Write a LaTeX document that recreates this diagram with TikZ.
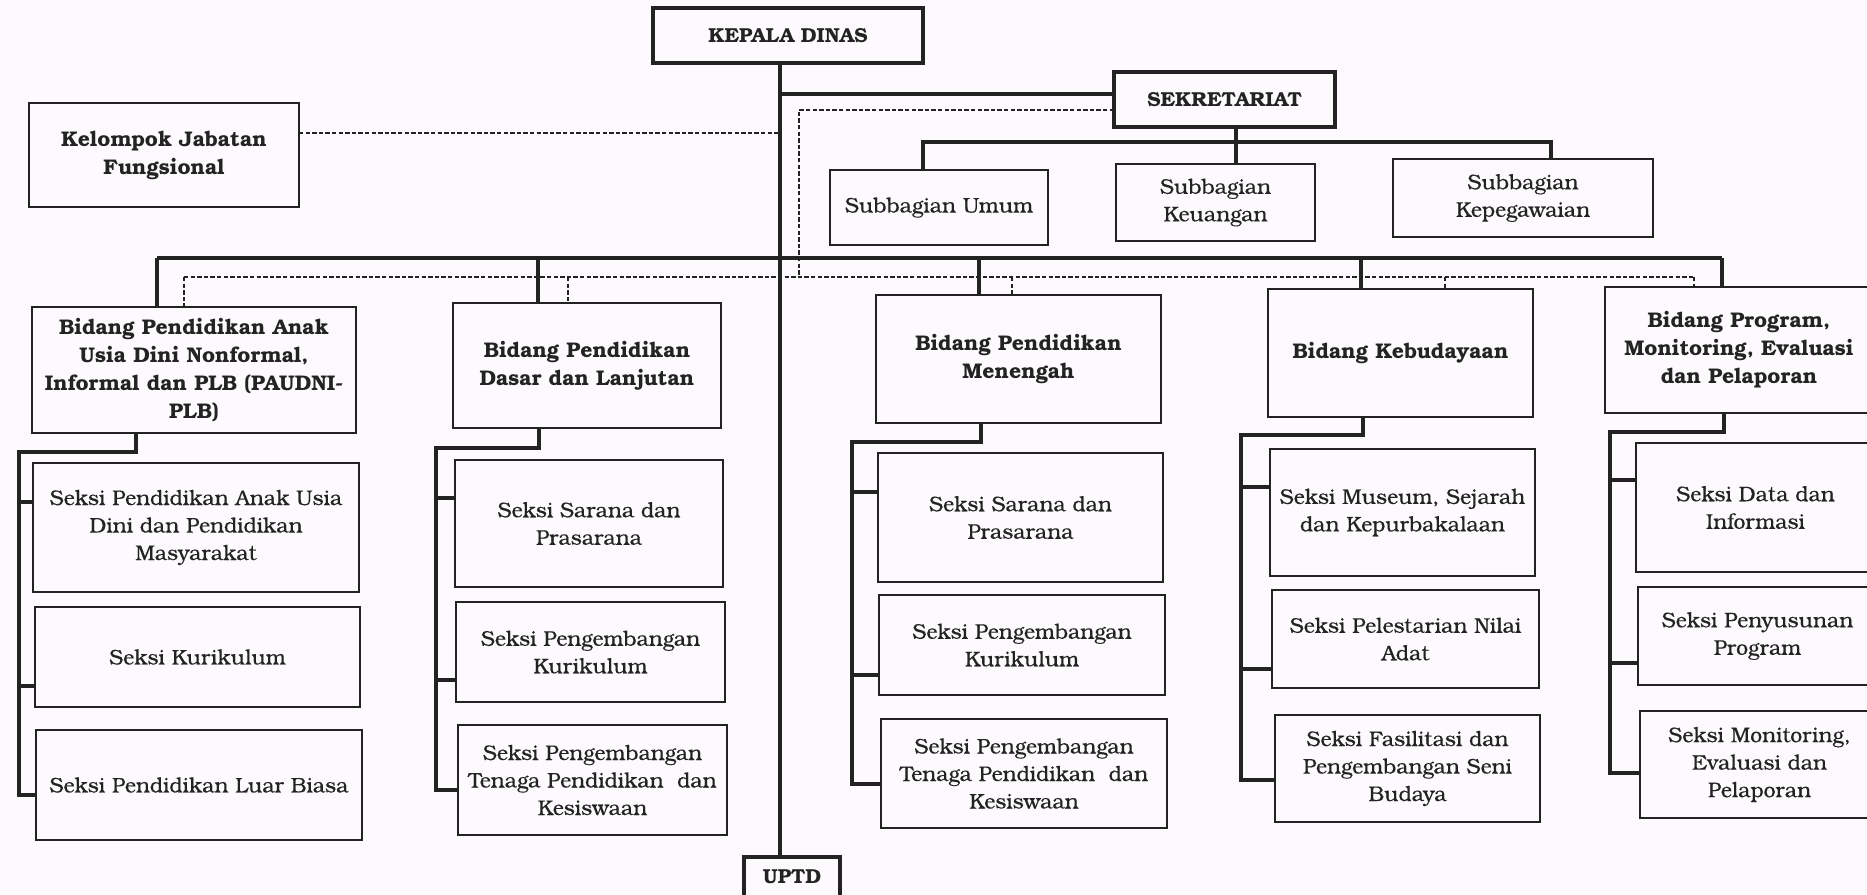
\documentclass[tikz,border=0pt]{standalone}
\usepackage{fontspec}
\setmainfont{TeX Gyre Bonum}
\newfontfamily\seksifont{TeX Gyre Bonum}[FakeBold=0.3]
\definecolor{ink}{HTML}{232323}
\definecolor{paper}{HTML}{FCFAFC}
\tikzset{
  orgbox/.style={draw=ink, line width=1.05pt, inner sep=1pt, outer sep=0pt, align=center, text=ink,
    font=\seksifont\fontsize{10.6}{13.75}\selectfont},
  headbox/.style={orgbox, line width=1.25pt, font=\rmfamily\bfseries\fontsize{10.6}{14}\selectfont},
  topbox/.style={headbox, line width=1.8pt, font=\rmfamily\bfseries\fontsize{10.1}{12}\selectfont},
  conn/.style={draw=ink, line width=2.2pt, line join=miter},
  dconn/.style={draw=ink, line width=0.8pt, dash pattern=on 2.2pt off 1.1pt},
}
% name, style, left, top, right, bottom (pixels), text
\newcommand\orgnode[7]{\node[#2, minimum width={(#5-#3)*0.5pt}, minimum height={(#6-#4)*0.5pt}] (#1) at ({(#3+#5)/2},{(#4+#6)/2}) {#7};}
\begin{document}
\begin{tikzpicture}[x=0.5pt,y=-0.5pt]
\fill[paper] (0,0) rectangle (1867,894);
\useasboundingbox (0,0) rectangle (1867,894);
\clip (0,0) rectangle (1867,894);

% top level
\orgnode{kepala}{topbox}{653}{8}{923}{63}{KEPALA DINAS}
\orgnode{kelompok}{headbox}{29}{103}{299}{207}{Kelompok Jabatan\\Fungsional}
\orgnode{sekre}{topbox}{1114}{72}{1335}{127}{SEKRETARIAT}
\orgnode{umum}{orgbox}{830}{170}{1048}{245}{Subbagian Umum}
\orgnode{keuangan}{orgbox}{1116}{164}{1315}{241}{Subbagian\\Keuangan}
\orgnode{kepeg}{orgbox}{1393}{159}{1653}{237}{Subbagian\\Kepegawaian}
\orgnode{uptd}{topbox}{744}{857}{840}{897}{UPTD}

% bidang
\orgnode{paudni}{headbox}{32}{307}{356}{433}{Bidang Pendidikan Anak\\Usia Dini Nonformal,\\Informal dan PLB (PAUDNI-\\PLB)}
\orgnode{dasar}{headbox}{453}{303}{721}{428}{Bidang Pendidikan\\Dasar dan Lanjutan}
\orgnode{menengah}{headbox}{876}{295}{1161}{423}{Bidang Pendidikan\\Menengah}
\orgnode{kebud}{headbox}{1268}{289}{1533}{417}{Bidang Kebudayaan}
\orgnode{program}{headbox}{1605}{287}{1873}{413}{Bidang Program,\\Monitoring, Evaluasi\\dan Pelaporan}

% seksi
\orgnode{p1}{orgbox}{33}{463}{359}{592}{Seksi Pendidikan Anak Usia\\Dini dan Pendidikan\\Masyarakat}
\orgnode{p2}{orgbox}{35}{607}{360}{707}{Seksi Kurikulum}
\orgnode{p3}{orgbox}{36}{730}{362}{840}{Seksi Pendidikan Luar Biasa}
\orgnode{d1}{orgbox}{455}{460}{723}{587}{Seksi Sarana dan\\Prasarana}
\orgnode{d2}{orgbox}{456}{602}{725}{702}{Seksi Pengembangan\\Kurikulum}
\orgnode{d3}{orgbox}{458}{725}{727}{835}{Seksi Pengembangan\\Tenaga Pendidikan\ \ dan\\Kesiswaan}
\orgnode{m1}{orgbox}{878}{453}{1163}{582}{Seksi Sarana dan\\Prasarana}
\orgnode{m2}{orgbox}{879}{595}{1165}{695}{Seksi Pengembangan\\Kurikulum}
\orgnode{m3}{orgbox}{881}{719}{1167}{828}{Seksi Pengembangan\\Tenaga Pendidikan\ \ dan\\Kesiswaan}
\orgnode{k1}{orgbox}{1270}{449}{1535}{576}{Seksi Museum, Sejarah\\dan Kepurbakalaan}
\orgnode{k2}{orgbox}{1272}{590}{1539}{688}{Seksi Pelestarian Nilai\\Adat}
\orgnode{k3}{orgbox}{1275}{715}{1540}{822}{Seksi Fasilitasi dan\\Pengembangan Seni\\Budaya}
\orgnode{g1}{orgbox}{1636}{443}{1875}{572}{Seksi Data dan\\Informasi}
\orgnode{g2}{orgbox}{1638}{587}{1877}{685}{Seksi Penyusunan\\Program}
\orgnode{g3}{orgbox}{1640}{711}{1879}{818}{Seksi Monitoring,\\Evaluasi dan\\Pelaporan}

% main spine
\draw[conn] (kepala.south -| 780,0) -- (uptd.north -| 780,0);
\draw[conn] (780,94) -- (sekre.west |- 0,94);

% kelompok jabatan fungsional (dashed)
\draw[dconn] (kelompok.east |- 0,133) -- (780,133);

% secretariat subtree
\draw[conn] (sekre.south -| 1236,0) -- (1236,142);
\draw[conn] (umum.north -| 923,0) -- (923,142) -- (1551,142) -- (kepeg.north -| 1551,0);
\draw[conn] (1236,142) -- (keuangan.north -| 1236,0);

% solid bus to bidang
\draw[conn] (157,258) -- (1722,258);
\foreach \bn/\x in {paudni/157, dasar/538, menengah/979, kebud/1361, program/1722}
  \draw[conn] (\x,258) -- (\bn.north -| \x,0);

% dashed coordination line
\draw[dconn] (sekre.west |- 0,110) -| (799,277);
\draw[dconn] (184,277) -- (1694,277);
\foreach \bn/\x in {paudni/184, dasar/568, menengah/1012, kebud/1445, program/1694}
  \draw[dconn] (\x,277) -- (\bn.north -| \x,0);

% seksi subtrees
\foreach \bn/\cn/\dx/\by/\vx/\ta/\tb/\tc in {
  paudni/p/136/452/19/502/686/795,
  dasar/d/539/448/436/498/680/790,
  menengah/m/981/442/852/492/675/784,
  kebud/k/1363/435/1241/487/669/780,
  program/g/1724/432/1610/480/663/773} {
  \draw[conn] (\bn.south -| \dx,0) -- (\dx,\by) -- (\vx,\by) -- (\vx,\tc) -- (\cn3.west |- 0,\tc);
  \draw[conn] (\vx,\ta) -- (\cn1.west |- 0,\ta);
  \draw[conn] (\vx,\tb) -- (\cn2.west |- 0,\tb);
}
\end{tikzpicture}
\end{document}
